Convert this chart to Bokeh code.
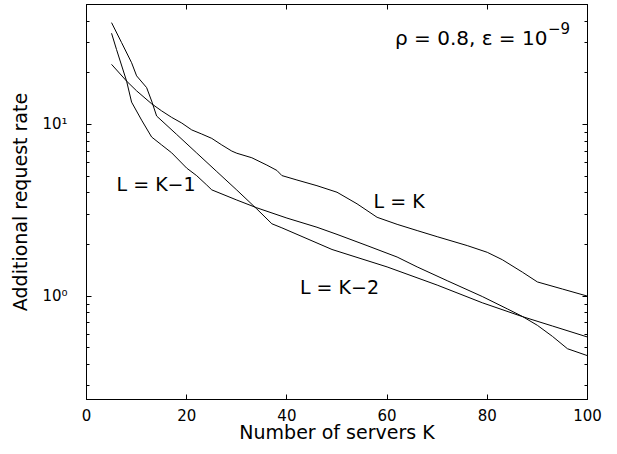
from bokeh.plotting import figure
from bokeh.models import FixedTicker, LinearAxis, LogAxis, Label, Range1d
from bokeh.embed import file_html
from bokeh.resources import INLINE

# ---- data ----
k_lk = [5, 8, 10, 13, 15, 17, 19, 21, 23, 25, 27, 29, 30, 33, 36, 38, 39, 42, 46, 50, 54, 58,
        62, 66, 70, 76, 80, 83, 87, 90, 95, 100]
v_lk = [22.4, 17.9, 15.7, 13.2, 12.0, 11.0, 10.2, 9.3, 8.8, 8.3, 7.6, 7.0, 6.8, 6.4, 5.8, 5.4,
        5.04, 4.75, 4.4, 4.03, 3.45, 2.88, 2.62, 2.41, 2.22, 1.97, 1.8, 1.63, 1.38, 1.21, 1.10, 1.0]

k_a = [5, 7, 9, 10, 12, 13, 14, 18, 22, 26, 30, 34, 37, 39, 49, 60, 70, 79, 87, 93, 100]
v_a = [39.2, 30.0, 22.9, 19.2, 16.4, 13.7, 11.2, 8.75, 6.82, 5.32, 4.15, 3.22, 2.64, 2.50,
       1.87, 1.48, 1.16, 0.915, 0.76, 0.67, 0.578]

k_b = [5, 6, 8, 9, 11, 13, 15, 17, 20, 22, 24, 25, 30, 34, 40, 46, 50, 56, 62, 66, 72, 79,
       84, 87, 90, 93, 96, 100]
v_b = [34.0, 27.3, 17.9, 13.5, 10.6, 8.45, 7.6, 6.84, 5.57, 5.03, 4.44, 4.16, 3.63, 3.27,
       2.85, 2.52, 2.29, 1.97, 1.69, 1.48, 1.23, 0.995, 0.843, 0.762, 0.676, 0.583, 0.494, 0.45]

x_ticks = [0, 20, 40, 60, 80, 100]
y_major = [1, 10]
y_labels = {1: "10\u2070", 10: "10\u00b9"}
y_minor = [0.3, 0.4, 0.5, 0.6, 0.7, 0.8, 0.9, 2, 3, 4, 5, 6, 7, 8, 9, 20, 30, 40]

FONT = "DejaVu Sans"

p = figure(width=617, height=454, x_range=Range1d(0, 100), y_range=Range1d(0.25, 50),
           y_axis_type="log", output_backend="svg", toolbar_location=None,
           min_border_left=86, min_border_right=30, min_border_top=4, min_border_bottom=55)
p.xgrid.visible = False
p.ygrid.visible = False
p.outline_line_color = "black"
p.outline_line_width = 1
p.background_fill_color = "white"
p.border_fill_color = "white"

for k, v in ((k_lk, v_lk), (k_a, v_a), (k_b, v_b)):
    p.line(k, v, line_color="black", line_width=1)

xt = FixedTicker(ticks=x_ticks)
yt = FixedTicker(ticks=y_major, minor_ticks=y_minor)

xa = p.xaxis[0]
xa.ticker = xt
xa.axis_label = "Number of servers K"
ya = p.yaxis[0]
ya.ticker = yt
ya.major_label_overrides = y_labels
ya.axis_label = "Additional request rate"

for ax in (xa, ya):
    ax.axis_line_color = "black"
    ax.major_tick_in = 5
    ax.major_tick_out = 0
    ax.minor_tick_in = 3
    ax.minor_tick_out = 0
    ax.major_label_text_font = FONT
    ax.major_label_text_font_size = "15px"
    ax.major_label_text_color = "black"
    ax.axis_label_text_font = FONT
    ax.axis_label_text_font_size = "19px"
    ax.axis_label_text_font_style = "normal"
    ax.axis_label_text_color = "black"

xa.major_label_standoff = 9
xa.axis_label_standoff = -3
ya.major_label_standoff = 19
ya.axis_label_standoff = 8

top = LinearAxis(ticker=xt, major_label_overrides={t: "" for t in x_ticks})
right = LogAxis(ticker=yt, major_label_overrides={t: "" for t in y_major})
for ax in (top, right):
    ax.major_tick_in = 5
    ax.major_tick_out = 0
    ax.minor_tick_in = 3
    ax.minor_tick_out = 0
    ax.major_label_standoff = 0
    ax.major_label_text_font_size = "0px"
    ax.axis_line_color = "black"
p.add_layout(top, "above")
p.add_layout(right, "right")

# parameter note: base text and its superscript exponent
p.add_layout(Label(x=92.0, y=32.1, text="\u03c1 = 0.8, \u03b5 = 10",
                   text_align="right", text_baseline="alphabetic",
                   text_font=FONT, text_font_size="20px", text_color="black"))
p.add_layout(Label(x=92.1, y=32.1, y_offset=10, text="\u22129",
                   text_align="left", text_baseline="alphabetic",
                   text_font=FONT, text_font_size="15px", text_color="black"))

p.add_layout(Label(x=6.0, y=4.49, text="L = K\u22121", text_align="left",
                   text_baseline="alphabetic", text_font=FONT, text_font_size="19px",
                   text_color="black"))
p.add_layout(Label(x=57.3, y=3.60, text="L = K", text_align="left",
                   text_baseline="alphabetic", text_font=FONT, text_font_size="19px",
                   text_color="black"))
p.add_layout(Label(x=42.6, y=1.127, text="L = K\u22122", text_align="left",
                   text_baseline="alphabetic", text_font=FONT, text_font_size="19px",
                   text_color="black"))

open("out.html", "w").write(file_html(p, INLINE))
